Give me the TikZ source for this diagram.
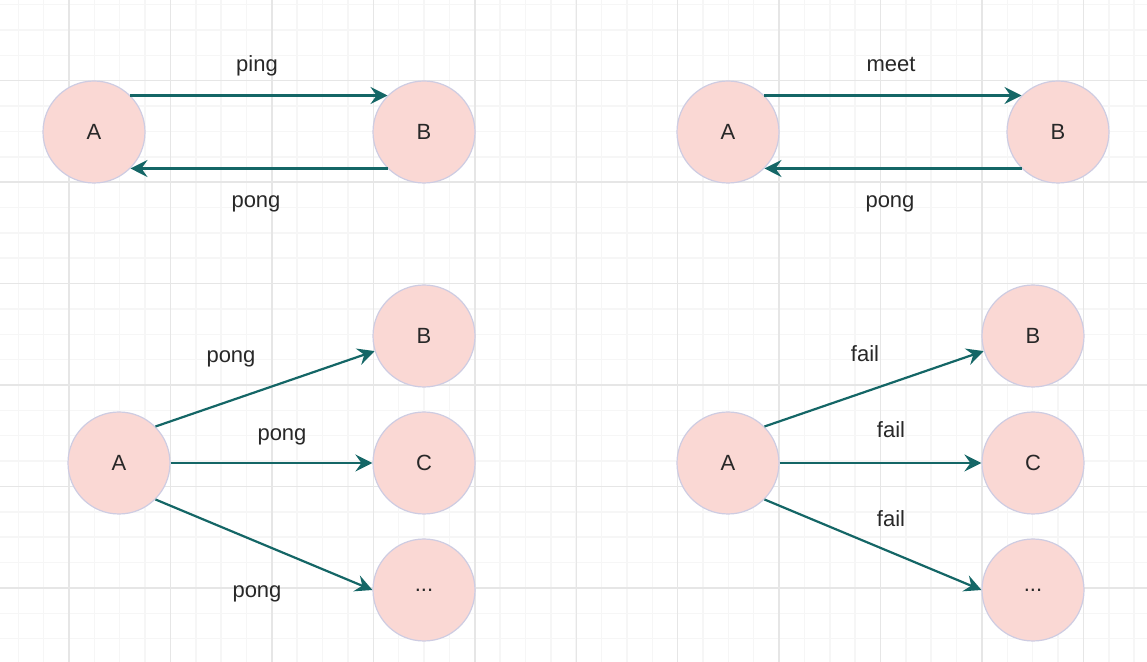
\documentclass[tikz,border=0pt]{standalone}
\usepackage{fontspec}
\setmainfont{Liberation Sans}
\usetikzlibrary{arrows.meta}
\definecolor{gridminor}{RGB}{246,246,246}
\definecolor{gridmajor}{RGB}{230,230,230}
\definecolor{peerfill}{RGB}{250,216,212}
\definecolor{peerline}{RGB}{206,204,226}
\definecolor{msgteal}{RGB}{20,102,102}
\definecolor{textdark}{RGB}{40,40,40}

\begin{document}
\begin{tikzpicture}[
    x=0.5pt, y=-0.5pt,
    peer/.style={circle, draw=peerline, fill=peerfill, line width=0.6pt,
        minimum size=51pt, inner sep=0pt, text=textdark,
        font=\fontsize{11}{13}\selectfont},
    msg/.style={draw=msgteal, line width=1.1pt,
        -{Stealth[length=8.5pt, width=8.5pt, inset=3pt]}},
    lbl/.style={anchor=base, inner sep=0pt, text=textdark,
        font=\fontsize{11}{13}\selectfont}
]
\fill[white] (0,0) rectangle (1147,662);
\useasboundingbox (0,0) rectangle (1147,662);

% grid
\foreach \i in {-2,...,42}
    \draw[gridminor, line width=0.75pt] ({69+25.36*\i},0) -- ({69+25.36*\i},662);
\foreach \j in {-3,...,22}
    \draw[gridminor, line width=0.75pt] (0,{80.7+25.36*\j}) -- (1147,{80.7+25.36*\j});
\foreach \k in {0,...,10}
    \draw[gridmajor, line width=0.75pt] ({69+101.45*\k},0) -- ({69+101.45*\k},662);
\foreach \k in {0,...,5}
    \draw[gridmajor, line width=0.75pt] (0,{80.7+101.45*\k}) -- (1147,{80.7+101.45*\k});

% peers
\node[peer] (a1) at (94,132) {A};
\node[peer] (b1) at (424,132) {B};
\node[peer] (a2) at (728,132) {A};
\node[peer] (b2) at (1058,132) {B};
\node[peer] (a3) at (119,463) {A};
\node[peer] (b3) at (424,336) {B};
\node[peer] (c3) at (424,463) {C};
\node[peer] (d3) at (424,590) {...};
\node[peer] (a4) at (728,463) {A};
\node[peer] (b4) at (1033,336) {B};
\node[peer] (c4) at (1033,463) {C};
\node[peer] (d4) at (1033,590) {...};

% messages
\draw[msg] (a1.north east) -- (b1.north west);
\draw[msg] (b1.south west) -- (a1.south east);
\draw[msg] (a2.north east) -- (b2.north west);
\draw[msg] (b2.south west) -- (a2.south east);
\draw[msg] (a3.north east) -- (b3.197);
\draw[msg] (a3.east) -- (c3.west);
\draw[msg] (a3.south east) -- (d3.west);
\draw[msg] (a4.north east) -- (b4.197);
\draw[msg] (a4.east) -- (c4.west);
\draw[msg] (a4.south east) -- (d4.west);

% labels
\node[lbl] (ping1) at (257,72) {ping};
\node[lbl] (pong1) at (256,208) {pong};
\node[lbl] (meet2) at (891,72) {meet};
\node[lbl] (pong2) at (890,208) {pong};
\node[lbl] (pong3) at (231,363) {pong};
\node[lbl] (pong4) at (282,441) {pong};
\node[lbl] (pong5) at (257,598) {pong};
\node[lbl] (fail1) at (865,362) {fail};
\node[lbl] (fail2) at (891,438) {fail};
\node[lbl] (fail3) at (891,527) {fail};
\end{tikzpicture}
\end{document}
